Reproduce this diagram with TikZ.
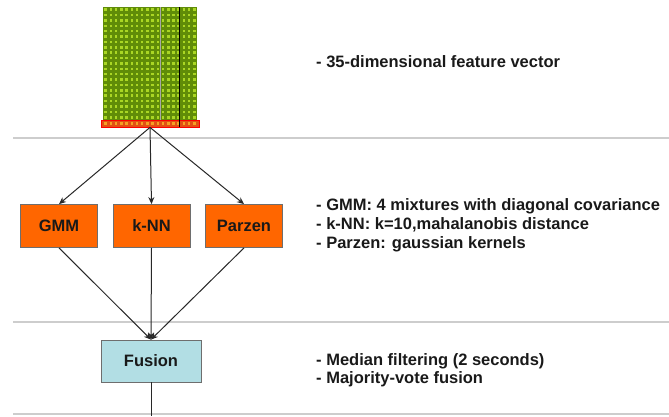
\documentclass[tikz,border=0pt]{standalone}
\usepackage{fontspec}
\setmainfont{Liberation Sans}
\usetikzlibrary{arrows.meta, positioning}

\definecolor{vecgreen}{RGB}{96,140,8}
\definecolor{vecdot}{RGB}{170,214,36}
\definecolor{barred}{RGB}{226,80,20}
\definecolor{bardot}{RGB}{246,160,36}
\definecolor{clforange}{RGB}{255,102,0}
\definecolor{fuseblue}{RGB}{178,222,228}
\definecolor{boxgray}{RGB}{110,110,110}
\definecolor{linegray}{RGB}{40,40,40}
\definecolor{sepgray}{RGB}{205,205,205}
\definecolor{textdark}{RGB}{25,25,25}

\tikzset{
  clfbox/.style={rectangle, fill=clforange, draw=boxgray, line width=0.8pt,
                 minimum width=77pt, minimum height=43pt,
                 font=\fontsize{16.5}{19}\selectfont\bfseries, text=textdark},
  fusebox/.style={rectangle, fill=fuseblue, draw=boxgray, line width=0.8pt,
                  minimum width=100pt, minimum height=42pt,
                  font=\fontsize{16.5}{19}\selectfont\bfseries, text=textdark},
  link/.style={-{Stealth[length=7pt,width=6pt]}, line width=1pt, draw=linegray},
  sepline/.style={line width=2pt, draw=sepgray},
  note/.style={anchor=base west, inner sep=0pt,
               font=\fontsize{16.5}{19}\selectfont\bfseries, text=textdark}
}

\begin{document}
\begin{tikzpicture}[x=1pt,y=-1pt]
  \useasboundingbox (0,0) rectangle (669,416);

  % separators
  \draw[sepline] (13,138) -- (669,138);
  \draw[sepline] (13,322) -- (669,322);
  \draw[sepline] (13,414) -- (669,414);

  % feature vector
  \fill[vecgreen] (103,7) rectangle (197,120);
  \foreach \i in {0,...,17}
    \foreach \j in {0,...,20}
      \fill[vecdot] ({103+5.22*\i+1.4},{7+5.38*\j+1.4}) rectangle ++(2.5,2.5);
  \node (bar) [rectangle, fill=barred, draw=red, line width=0.8pt,
               minimum width=98pt, minimum height=7pt, inner sep=0pt] at (150,123.5) {};
  \foreach \i in {0,...,17}
    \fill[bardot] ({103+5.22*\i+1.4},122.2) rectangle ++(2.5,2.6);
  \draw[gray!70, line width=0.8pt] (160,7) -- (160,120);
  \draw[black, line width=0.8pt] (179,7) -- (179,127);

  % classifiers
  \node (gmm)    [clfbox] at (59,226)  {GMM};
  \node (knn)    [clfbox] at (151.5,226) {k-NN};
  \node (parzen) [clfbox] at (244,226) {Parzen};
  \node (fusion) [fusebox] at (151,361) {Fusion};
  \coordinate (out) at (151,416);

  \draw[link] (bar.south) -- (gmm.north);
  \draw[link] (bar.south) -- (knn.north);
  \draw[link] (bar.south) -- (parzen.north);
  \draw[link] (gmm.south) -- (fusion.north);
  \draw[link] (knn.south) -- (fusion.north);
  \draw[link] (parzen.south) -- (fusion.north);
  \draw[line width=1pt, draw=linegray] (fusion.south) -- (out);

  % notes
  \node (vectxt)   [note] at (316,67)  {- 35-dimensional feature vector};
  \node (gmmtxt)   [note] at (316,210) {- GMM: 4 mixtures with diagonal covariance};
  \node (knntxt)   [note] at (316,229) {- k-NN: k=10,mahalanobis distance};
  \node (parzentxt)[note] at (316,248) {- Parzen: gaussian kernels};
  \node (medtxt)   [note] at (316,365) {- Median filtering (2 seconds)};
  \node (majtxt)   [note] at (316,383) {- Majority-vote fusion};
\end{tikzpicture}
\end{document}
